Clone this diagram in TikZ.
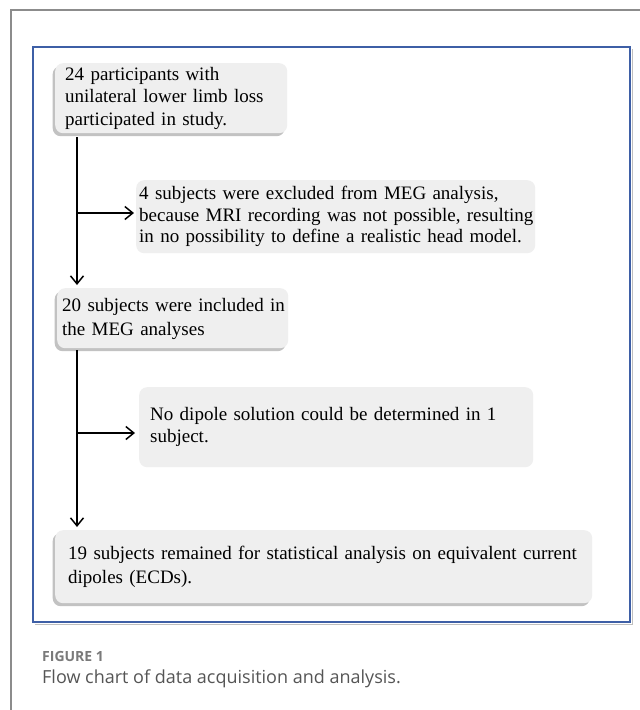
\documentclass[tikz,border=0pt]{standalone}
\usepackage{fontspec}
\setmainfont{Liberation Serif}
\newfontfamily\capfont{Open Sans}
\usetikzlibrary{arrows.meta,shadows}
\definecolor{boxfill}{HTML}{EFEFEF}
\definecolor{boxshadow}{HTML}{C2C2C2}
\definecolor{frameblue}{HTML}{3E5FA6}
\definecolor{framegray}{HTML}{8C8C8C}
\definecolor{captiongray}{HTML}{555555}
\definecolor{figgray}{HTML}{7A7A7A}
\newcommand\boxlines[1]{\begin{tabular}{@{}l@{}}#1\end{tabular}}
\tikzset{
  flowbox/.style={fill=boxfill, rounded corners=8pt, anchor=north west, align=left,
    inner ysep=0pt, font=\fontsize{19}{22.5}\selectfont},
  shadowed/.style={drop shadow={shadow xshift=-2.5pt, shadow yshift=-3pt, opacity=1, fill=boxshadow}},
  conn/.style={line width=1.5pt, -{Straight Barb[length=8pt,width=13pt,line width=1.5pt]}},
}
\begin{document}
\begin{tikzpicture}[x=1pt,y=-1pt]
\useasboundingbox (0,0) rectangle (640,710);
\fill[white] (0,0) rectangle (640,710);
% outer frame
\draw[framegray, line width=1.5pt] (11,710) -- (11,10) -- (640,10);
% blue frame
\draw[black!25, line width=1pt] (35,624) -- (632,624) -- (632,49);
\draw[frameblue, line width=1.3pt] (33,47) rectangle (630,622);
% boxes
\node[flowbox, shadowed, minimum width=232pt, minimum height=70pt, text width=212pt, inner xsep=10pt] (b1) at (55,63)
  {\boxlines{24 participants with\\unilateral lower limb loss\\participated in study.}};
\node[flowbox, minimum width=399pt, minimum height=73pt, text width=393pt, inner xsep=3pt,
  font=\fontsize{19}{21.7}\selectfont] (b2) at (136,180)
  {\boxlines{4 subjects were excluded from MEG analysis,\\because MRI recording was not possible, resulting\\in no possibility to define a realistic head model.}};
\node[flowbox, shadowed, minimum width=231pt, minimum height=60pt, text width=221pt, inner xsep=5pt,
  font=\fontsize{19}{24}\selectfont] (b3) at (57,288)
  {\boxlines{20 subjects were included in\\the MEG analyses}};
\node[flowbox, minimum width=394pt, minimum height=80pt, text width=372pt, inner xsep=11pt,
  font=\fontsize{19}{22}\selectfont] (b4) at (139,387)
  {\boxlines{No dipole solution could be determined in 1\\subject.}};
\node[flowbox, shadowed, minimum width=537pt, minimum height=73pt, text width=511pt, inner xsep=13pt,
  font=\fontsize{19}{24}\selectfont] (b5) at (55,530)
  {\boxlines{19 subjects remained for statistical analysis on equivalent current\\dipoles (ECDs).}};
% connectors
\coordinate (tx) at (77,0);
\coordinate (j1) at (77,213);
\coordinate (j2) at (77,433);
\draw[conn, shorten <=4pt, shorten >=3pt] (b1.south -| tx) -- (b3.north -| tx);
\draw[conn, shorten >=2pt] (j1) -- (j1 -| b2.west);
\draw[conn, shorten <=2pt, shorten >=3pt] (b3.south -| tx) -- (b5.north -| tx);
\draw[conn, shorten >=4pt] (j2) -- (j2 -| b4.west);
% caption
\node[anchor=west, inner sep=0pt, font=\capfont\bfseries\fontsize{14}{16}\selectfont, text=figgray] (fig) at (42,656) {FIGURE 1};
\node[anchor=west, inner sep=0pt, font=\capfont\fontsize{18}{22}\selectfont, text=captiongray] (cap) at (42,679) {Flow chart of data acquisition and analysis.};
\end{tikzpicture}
\end{document}
